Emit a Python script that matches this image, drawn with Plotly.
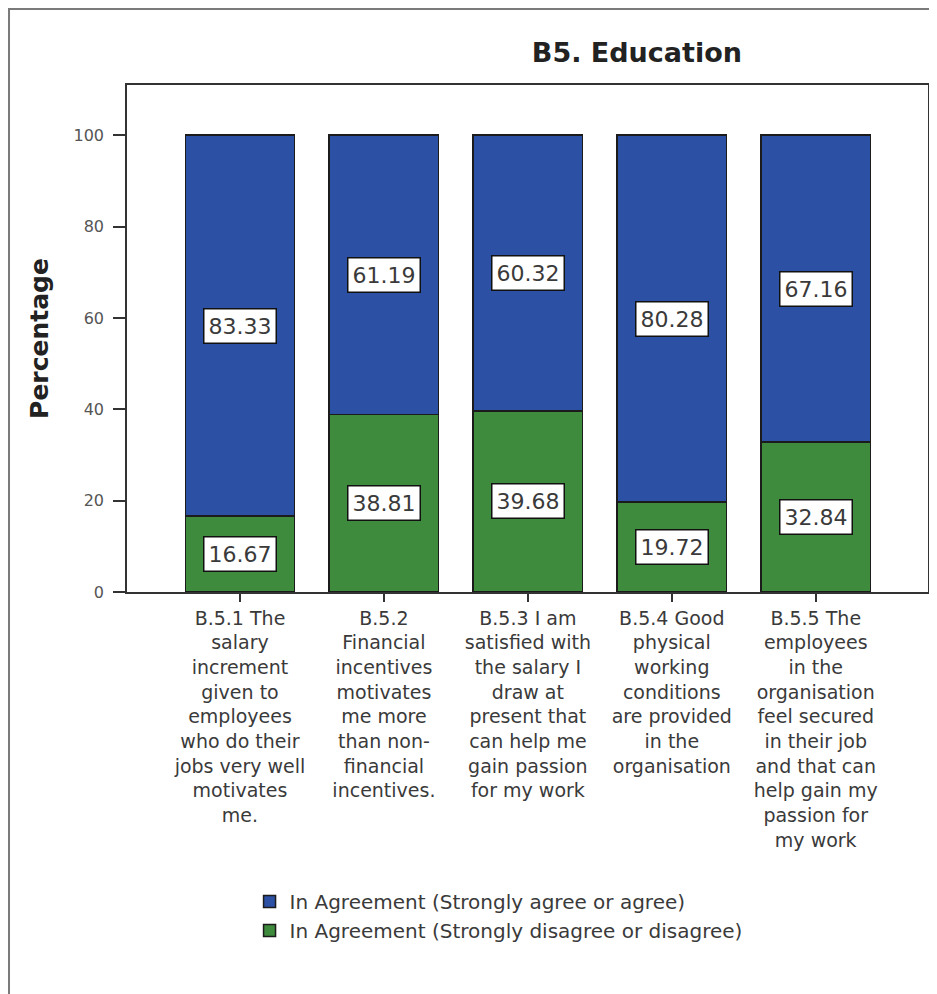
import plotly.graph_objects as go

categories = [
    "B.5.1 The<br>salary<br>increment<br>given to<br>employees<br>who do their<br>jobs very well<br>motivates<br>me.",
    "B.5.2<br>Financial<br>incentives<br>motivates<br>me more<br>than non-<br>financial<br>incentives.",
    "B.5.3 I am<br>satisfied with<br>the salary I<br>draw at<br>present that<br>can help me<br>gain passion<br>for my work",
    "B.5.4 Good<br>physical<br>working<br>conditions<br>are provided<br>in the<br>organisation",
    "B.5.5 The<br>employees<br>in the<br>organisation<br>feel secured<br>in their job<br>and that can<br>help gain my<br>passion for<br>my work",
]
agree = [83.33, 61.19, 60.32, 80.28, 67.16]
disagree = [16.67, 38.81, 39.68, 19.72, 32.84]
series_names = [
    "In Agreement (Strongly agree or agree)",
    "In Agreement (Strongly disagree or disagree)",
]
yticks = [0, 20, 40, 60, 80, 100]

BLUE = "#2c50a4"
GREEN = "#3e8b3d"
FONT = "DejaVu Sans, Liberation Sans, Arial, sans-serif"

x = list(range(len(categories)))

fig = go.Figure()
fig.add_trace(go.Bar(
    x=x, y=disagree, name=series_names[1], marker_color=GREEN,
    marker_line=dict(color="#1b1b1b", width=1.5), width=0.76,
))
fig.add_trace(go.Bar(
    x=x, y=agree, name=series_names[0], marker_color=BLUE,
    marker_line=dict(color="#1b1b1b", width=1.5), width=0.76,
))

for i in x:
    for val, base in ((disagree[i], 0), (agree[i], disagree[i])):
        fig.add_annotation(
            x=i, y=base + val / 2, xref="x", yref="y",
            text=f"{val:.2f}", showarrow=False,
            font=dict(family=FONT, size=22, color="#3a3a3a"),
            bgcolor="white", bordercolor="#111111", borderwidth=1.5, borderpad=4,
        )

# outer frame of the exported chart
fig.add_shape(
    type="rect", xref="paper", yref="paper",
    x0=-0.1473, x1=1.05, y0=-0.85, y1=1.1499,
    line=dict(color="#7a7a7a", width=2), fillcolor="rgba(0,0,0,0)", layer="below",
)

fig.update_layout(
    width=929, height=986,
    margin=dict(l=119, r=9, t=77, b=402),
    paper_bgcolor="white", plot_bgcolor="white",
    barmode="stack",
    title=dict(
        text="<b>B5. Education</b>", x=0.677, xanchor="center", xref="container",
        y=0.9544, yanchor="middle",
        font=dict(family=FONT, size=27, color="#222222"),
    ),
    font=dict(family=FONT),
    showlegend=True,
    legend=dict(
        x=0.153, xanchor="left", y=-0.572, yanchor="top",
        traceorder="reversed",
        font=dict(family=FONT, size=20, color="#3a3a3a"),
        bgcolor="rgba(0,0,0,0)",
    ),
)

fig.update_xaxes(
    tickmode="array", tickvals=x, ticktext=categories,
    range=[-0.785, 4.78],
    showline=True, linecolor="#333333", linewidth=1.5, mirror=True,
    ticks="outside", ticklen=8, tickcolor="#333333", tickwidth=1.5,
    tickfont=dict(family=FONT, size=19, color="#3a3a3a"),
    tickangle=0, showgrid=False, zeroline=False,
)
fig.update_yaxes(
    range=[0, 111], tickmode="array", tickvals=yticks,
    ticktext=[str(v) for v in yticks],
    showline=True, linecolor="#333333", linewidth=1.5, mirror=True,
    ticks="outside", ticklen=12, tickcolor="#333333", tickwidth=1.5,
    ticklabelstandoff=6,
    tickfont=dict(family=FONT, size=16, color="#555555"),
    showgrid=False, zeroline=False,
    title=dict(text="<b>Percentage</b>", font=dict(family=FONT, size=25, color="#222222"), standoff=18),
    automargin=False,
)

fig.write_html("out.html")
